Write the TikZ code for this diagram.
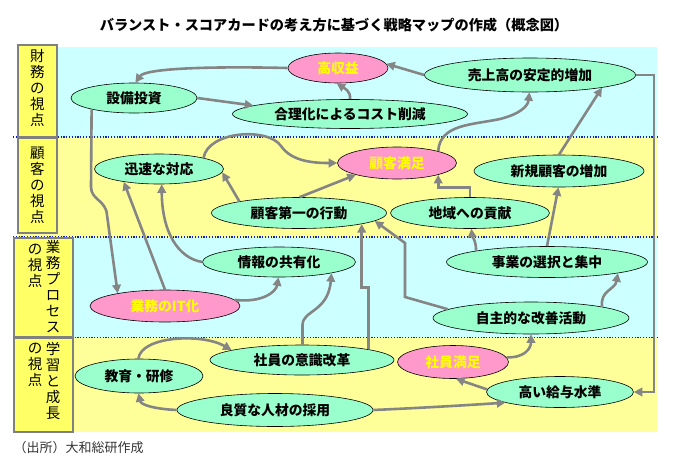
\documentclass[tikz,border=0pt]{standalone}
\usepackage{fontspec}
\setmainfont{Noto Sans CJK JP}
\usetikzlibrary{shapes.geometric,arrows.meta,calc}
\definecolor{bgcyan}{HTML}{CCFFFF}
\definecolor{bgyellow}{HTML}{FFFF99}
\definecolor{boxyellow}{HTML}{FFFF66}
\definecolor{boxgray}{HTML}{808080}
\definecolor{mint}{HTML}{99FFCC}
\definecolor{pinkc}{HTML}{FF99CC}
\definecolor{yellowtxt}{HTML}{FFFF00}
\definecolor{arrgray}{HTML}{858585}
\definecolor{dotblue}{HTML}{1020C0}
\begin{document}
\begin{tikzpicture}[x=1pt,y=-1pt,
  oval/.style={ellipse, draw=black, line width=0.6pt, fill=mint, inner sep=0pt, font=\fontsize{13.8}{14}\selectfont\bfseries},
  pinkoval/.style={oval, fill=pinkc, text=yellowtxt},
  arr/.style={draw=arrgray, line width=2.6pt, -{Triangle[length=8.5pt,width=8.5pt]}},
  lbl/.style={draw=boxgray, line width=2.5pt, fill=boxyellow},
  vtext/.style={align=center, font=\fontsize{14.5}{16}\selectfont, inner sep=0pt},
  sepline/.style={draw=dotblue, line width=1.3pt, dash pattern=on 1.2pt off 1.6pt}
]
\useasboundingbox (0,0) rectangle (675,469);
% bands
\fill[bgcyan] (17,47) rectangle (657,137);
\fill[bgyellow] (17,137) rectangle (657,237);
\fill[bgcyan] (17,237) rectangle (657,338);
\fill[bgyellow] (17,338) rectangle (657,432);
\draw[sepline] (13,137) -- (658,137);
\draw[sepline] (13,237) -- (658,237);
\draw[sepline] (13,337.5) -- (658,337.5);
% label boxes
\draw[lbl] (18,45) rectangle (57,137);
\draw[lbl] (18,138) rectangle (57,233);
\draw[lbl] (14,238) rectangle (73,337);
\draw[lbl] (14,338) rectangle (73,432);
\node[vtext] (t1) at (37.5,88) {財\\務\\の\\視\\点};
\node[vtext] (t2) at (37.5,185) {顧\\客\\の\\視\\点};
\node[vtext] (t3a) at (53,287) {業\\務\\プ\\ロ\\セ\\ス};
\node[vtext] (t3b) at (35,266) {の\\視\\点};
\node[vtext] (t4a) at (53,381) {学\\習\\と\\成\\長};
\node[vtext] (t4b) at (35,365) {の\\視\\点};
% title and footer
\node[font=\fontsize{14.2}{14}\selectfont\bfseries] (title) at (334,25) {バランスト・スコアカードの考え方に基づく戦略マップの作成（概念図）};
\node[anchor=west, font=\fontsize{13}{13}\selectfont, text=black!80] (src) at (10,448) {（出所）大和総研作成};
% nodes
\node[pinkoval, minimum width=100pt, minimum height=30pt] (A) at (338,68) {高収益};
\node[oval, minimum width=211pt, minimum height=34pt] (B) at (530,75) {売上高の安定的増加};
\node[oval, minimum width=126pt, minimum height=30pt] (C) at (134,98) {設備投資};
\node[oval, minimum width=235pt, minimum height=29pt] (D) at (350,114) {合理化によるコスト削減};
\node[oval, minimum width=129pt, minimum height=30pt] (E) at (159,169) {迅速な対応};
\node[pinkoval, minimum width=119pt, minimum height=32pt] (F) at (397,163) {顧客満足};
\node[oval, minimum width=170pt, minimum height=32pt] (G) at (559,171) {新規顧客の増加};
\node[oval, minimum width=175pt, minimum height=31pt] (H) at (299,213) {顧客第一の行動};
\node[oval, minimum width=159pt, minimum height=31pt] (I) at (470,213) {地域への貢献};
\node[oval, minimum width=153pt, minimum height=30pt] (J) at (279,262) {情報の共有化};
\node[oval, minimum width=201pt, minimum height=31pt] (K) at (547,262) {事業の選択と集中};
\node[pinkoval, minimum width=150pt, minimum height=32pt] (L) at (165,306) {業務のIT化};
\node[oval, minimum width=196pt, minimum height=32pt] (M) at (531,318) {自主的な改善活動};
\node[oval, minimum width=184pt, minimum height=30pt] (N) at (302,360) {社員の意識改革};
\node[pinkoval, minimum width=111pt, minimum height=33pt] (O) at (453,362) {社員満足};
\node[oval, minimum width=128pt, minimum height=34pt] (P) at (139,376) {教育・研修};
\node[oval, minimum width=147pt, minimum height=31pt] (Q) at (560,392) {高い給与水準};
\node[oval, minimum width=196pt, minimum height=33pt] (R) at (275,410) {良質な人材の採用};
% connectors
\draw[arr] (A.west) .. controls (200,66) and (145,69) .. (C.85);
\draw[arr] (B.west) -- (A.5);
\draw[arr] (C.east) -- (D.175);
\draw[arr] (D.north) .. controls (351,91) and (344,88) .. (A.265);
\draw[arr] (B.east) -- ++(18,0) |- (Q.east);
\draw[arr] (C.195) -- (91,187) .. controls (91,200) and (106,200) .. (107,215) -- (L.165);
\draw[arr] (L.north) -- (E.200);
\draw[arr] (J.west) .. controls (178,258) and (162,232) .. (E.280);
\draw[arr] (L.5) .. controls (262,303) and (276,292) .. (J.268);
\draw[arr] (H.169) -- (E.357);
\draw[arr] (H.88) -- (F.196);
\draw[arr] (E.14) .. controls (208,131) and (268,127) .. (281,146) .. controls (292,162) and (315,163) .. (F.west);
\draw[arr] (F.16) .. controls (440,124) and (472,125) .. (500,119) .. controls (520,114) and (528,106) .. (B.268);
\draw[arr] (G.north) -- (B.350);
\draw[arr] (I.north) -- ++(0,-10) -| (F.-16);
\draw[arr] (K.171) .. controls (476,240) and (472,236) .. (I.275);
\draw[arr] (K.north) -- (G.268);
\draw[arr] (M.9) .. controls (600,290) and (615,290) .. (K.351);
\draw[arr] (M.174) -- (405,297) -- (405,243) -- (H.-6);
\draw[arr] (N.9) -- ++(0,-62) -| (H.-10);
\draw[arr] (N.88) -- ++(0,-20) .. controls (303,310) and (328,312) .. (J.348);
\draw[arr] (P.92) .. controls (141,336) and (202,333) .. (N.172);
\draw[arr] (R.west) .. controls (155,409) and (141,405) .. (P.268);
\draw[arr] (R.east) .. controls (420,408) and (470,405) .. (Q.191);
\draw[arr] (Q.178) -- (O.280);
\draw[arr] (O.5) .. controls (525,358) and (531,348) .. (M.south);
\end{tikzpicture}
\end{document}
